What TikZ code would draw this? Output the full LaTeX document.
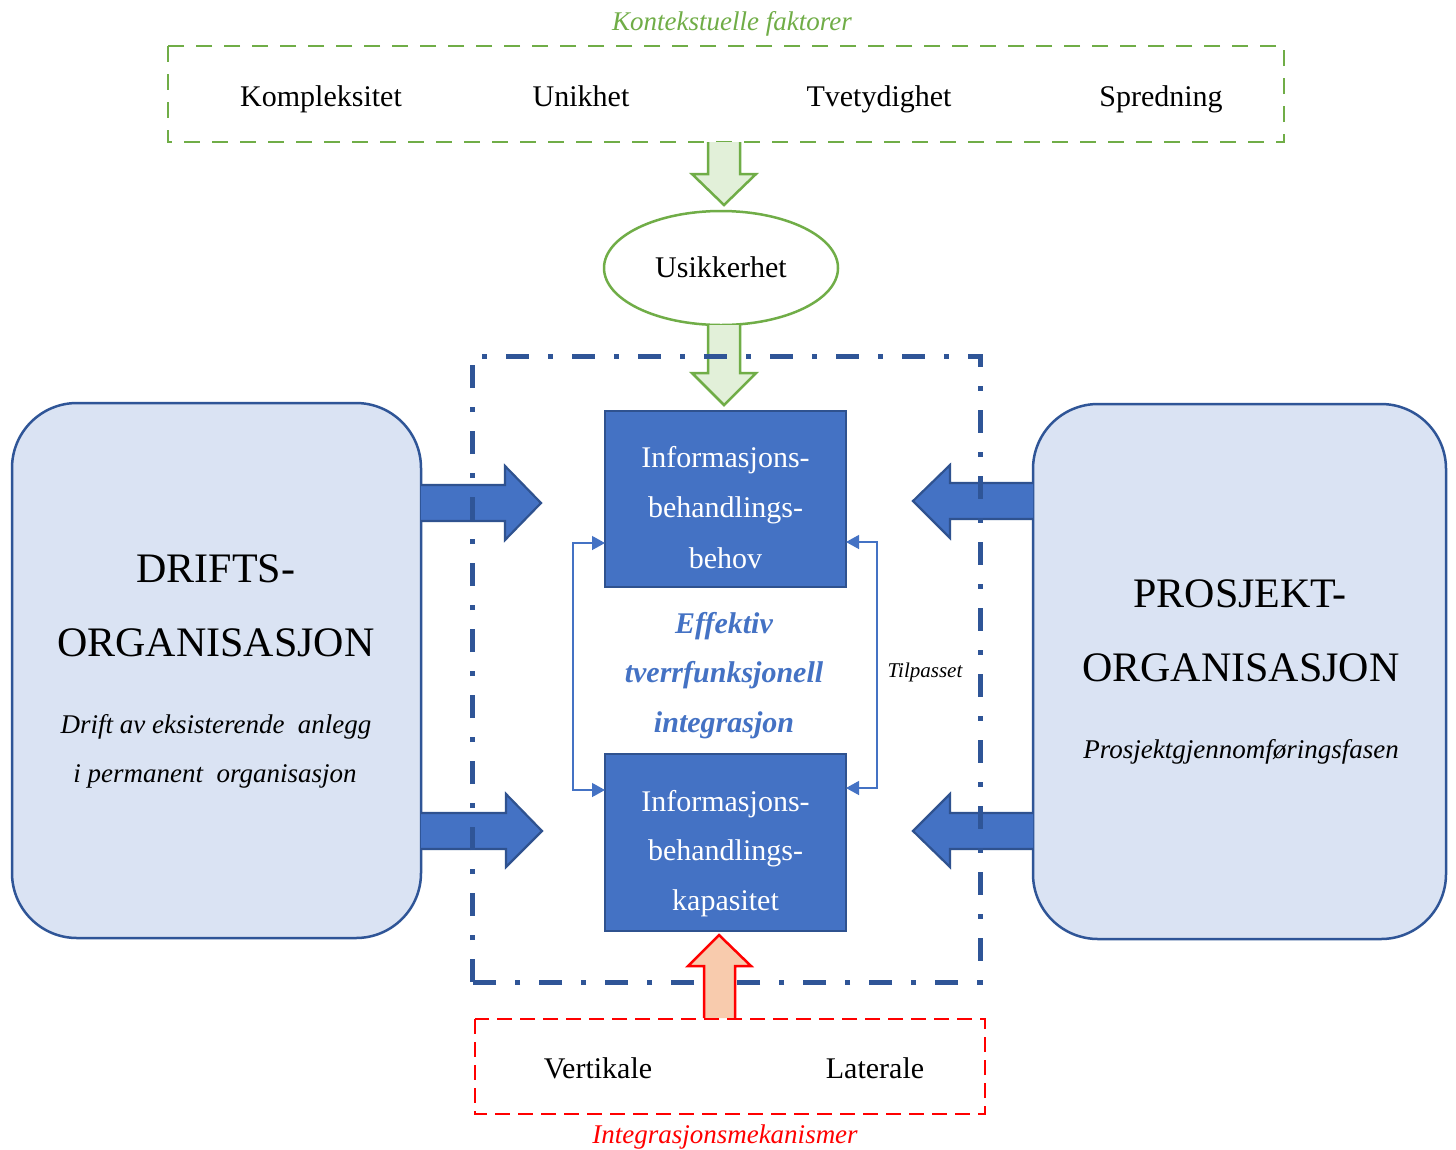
\documentclass[tikz,border=0pt]{standalone}
\usepackage{fontspec}
\setmainfont{Liberation Serif}
\usetikzlibrary{arrows.meta,shapes.geometric}
\definecolor{orgfill}{HTML}{DAE3F3}
\definecolor{orgline}{HTML}{2F5597}
\definecolor{boxfill}{HTML}{4472C4}
\definecolor{boxline}{HTML}{2F528F}
\definecolor{grnline}{HTML}{70AD47}
\definecolor{grnfill}{HTML}{E2F0D9}
\definecolor{redfill}{HTML}{F8CBAD}
\definecolor{redline}{HTML}{FF0000}
\begin{document}
\begin{tikzpicture}[x=1pt,y=-1pt,
  txt/.style={anchor=base, inner sep=0pt, outer sep=0pt, font=\fontsize{30}{36}\selectfont},
  whitetxt/.style={txt, text=white},
  midtxt/.style={txt, text=boxfill, font=\fontsize{30}{36}\selectfont\bfseries\itshape},
  bigtxt/.style={txt, font=\fontsize{42}{50}\selectfont},
  subtxt/.style={txt, font=\fontsize{27}{32}\selectfont\itshape},
  orgbox/.style={draw=orgline, fill=orgfill, line width=2.5pt, rounded corners=65pt, inner sep=0pt, outer sep=0pt, rectangle},
  infobox/.style={draw=boxline, fill=boxfill, line width=2.5pt, inner sep=0pt, outer sep=0pt, rectangle, minimum width=241pt},
  grnarrow/.style={draw=grnline, fill=grnfill, line width=2.5pt, line join=miter},
  bluearrow/.style={draw=boxline, fill=boxfill, line width=2.2pt, line join=miter},
  redarrow/.style={draw=redline, fill=redfill, line width=2.5pt, line join=miter},
  conn/.style={draw=boxfill, line width=1.3pt, {Triangle[length=13pt,width=14pt]}-{Triangle[length=13pt,width=14pt]}},
  dashframe/.style={draw=orgline, line width=5pt, dash pattern=on 23pt off 19pt on 5pt off 19pt},
  grnframe/.style={draw=grnline, line width=2.5pt, dash pattern=on 16pt off 12pt},
  redframe/.style={draw=redline, line width=2.2pt, dash pattern=on 15pt off 8pt}
]
\useasboundingbox (0,0) rectangle (1456,1149);
\fill[white] (0,0) rectangle (1456,1149);

% contextual factors
\node[draw=none, inner sep=0pt, outer sep=0pt, minimum width=1116pt, minimum height=96pt] (ctx) at (726,94) {};
\draw[grnframe] (ctx.north west) rectangle (ctx.south east);
\node[txt, text=grnline, font=\fontsize{27}{30}\selectfont\itshape] (ctxtitle) at (732,30) {Kontekstuelle faktorer};
\node[txt] (f1) at (321,106) {Kompleksitet};
\node[txt] (f2) at (581,106) {Unikhet};
\node[txt] (f3) at (879,106) {Tvetydighet};
\node[txt] (f4) at (1161,106) {Spredning};

% uncertainty
\node[draw=grnline, fill=white, line width=2.5pt, ellipse, inner sep=0pt, minimum width=234pt, minimum height=114pt] (usik) at (721,268) {};
\node[txt] (usiktxt) at (721,277) {Usikkerhet};

% green arrows
\draw[grnarrow] (708,142) -- (708,174) -- (692,174) -- (724,205) -- (756,174) -- (740,174) -- (740,142);
\draw[grnarrow] (708,325) -- (708,373) -- (692,373) -- (724,405) -- (756,373) -- (740,373) -- (740,325);

% organisation boxes
\node[orgbox, minimum width=409pt, minimum height=535pt] (drift) at (216.5,670.5) {};
\node[orgbox, minimum width=413pt, minimum height=535pt] (prosj) at (1239.5,671.5) {};

\node[bigtxt] (d1) at (216,582) {DRIFTS-};
\node[bigtxt] (d2) at (216,656) {ORGANISASJON};
\node[subtxt] (d3) at (216,733) {Drift av eksisterende\ \ anlegg};
\node[subtxt] (d4) at (215,782) {i permanent\ \ organisasjon};

\node[bigtxt] (p1) at (1240,607) {PROSJEKT-};
\node[bigtxt] (p2) at (1241,681) {ORGANISASJON};
\node[subtxt] (p3) at (1241,758) {Prosjektgjennomføringsfasen};

% blue block arrows
\draw[bluearrow] (421,485) -- (505,485) -- (505,466) -- (541,503) -- (505,540) -- (505,521) -- (421,521);
\draw[bluearrow] (421,813) -- (506,813) -- (506,794) -- (542,831) -- (506,867) -- (506,849) -- (421,849);
\draw[bluearrow] (1033,483) -- (950,483) -- (950,465) -- (913,501) -- (950,538) -- (950,519) -- (1033,519);
\draw[bluearrow] (1033,813) -- (950,813) -- (950,794) -- (913,831) -- (950,867) -- (950,849) -- (1033,849);

% dash-dot frame
\node[inner sep=0pt, outer sep=0pt, minimum width=508pt, minimum height=626pt] (frame) at (726,669) {};
\draw[dashframe] (frame.south west) -- (frame.north west) -- (frame.north east) -- (frame.south east) -- cycle;

% info boxes
\node[infobox, minimum height=176pt] (b1) at (725.5,499) {};
\node[infobox, minimum height=177pt] (b2) at (725.5,842.5) {};
\node[whitetxt] (b1a) at (725.5,467) {Informasjons-};
\node[whitetxt] (b1b) at (725.5,517) {behandlings-};
\node[whitetxt] (b1c) at (725.5,568) {behov};
\node[whitetxt] (b2a) at (725.5,811) {Informasjons-};
\node[whitetxt] (b2b) at (725.5,860) {behandlings-};
\node[whitetxt] (b2c) at (725.5,910) {kapasitet};

\node[midtxt] (m1) at (724,633) {Effektiv};
\node[midtxt] (m2) at (724,682) {tverrfunksjonell};
\node[midtxt] (m3) at (724,732) {integrasjon};

% connectors
\draw[conn] (b1.west |- 0,543) -- ++(-32,0) |- (b2.west |- 0,790);
\draw[conn] (b1.east |- 0,542) -- ++(31,0) |- (b2.east |- 0,788);
\node[txt, font=\fontsize{21}{25}\selectfont\itshape] (tilp) at (925,677) {Tilpasset};

% integration mechanisms
\node[inner sep=0pt, outer sep=0pt, minimum width=510pt, minimum height=95pt] (mech) at (730,1066.5) {};
\draw[redarrow] (704,1018) -- (704,966) -- (688,966) -- (719,935) -- (751,966) -- (735,966) -- (735,1018);
\draw[redframe] (mech.north west) rectangle (mech.south east);
\node[txt] (v1) at (598,1078) {Vertikale};
\node[txt] (v2) at (875,1078) {Laterale};
\node[txt, text=redline, font=\fontsize{27}{30}\selectfont\itshape] (mechtitle) at (725,1143) {Integrasjonsmekanismer};
\end{tikzpicture}
\end{document}
